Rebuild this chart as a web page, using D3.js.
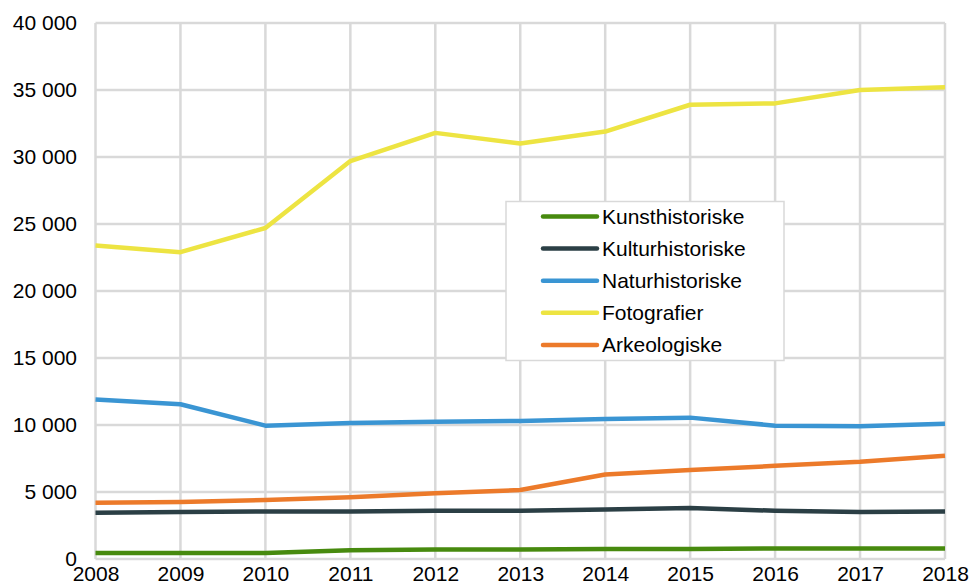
<!DOCTYPE html>
<html>
<head>
<meta charset="utf-8">
<script src="https://cdn.jsdelivr.net/npm/d3@7"></script>
<style>
  body { margin: 0; background: #fff; }
  svg text { font-family: "Liberation Sans", Arial, sans-serif; fill: #000; }
</style>
</head>
<body>
<div class="canvas"></div>
<script>
const years = [2008, 2009, 2010, 2011, 2012, 2013, 2014, 2015, 2016, 2017, 2018];
const yTicks = [0, 5000, 10000, 15000, 20000, 25000, 30000, 35000, 40000];

const kunsthistoriske = [450, 450, 450, 650, 700, 700, 750, 750, 780, 780, 780];
const kulturhistoriske = [3450, 3500, 3550, 3550, 3600, 3600, 3700, 3800, 3600, 3500, 3550];
const naturhistoriske = [11900, 11550, 9950, 10150, 10250, 10300, 10450, 10550, 9950, 9900, 10100];
const fotografier = [23400, 22900, 24700, 29700, 31800, 31000, 31900, 33900, 34000, 35000, 35200];
const arkeologiske = [4200, 4250, 4400, 4600, 4900, 5150, 6300, 6650, 6950, 7250, 7700];

const seriesNames = ["Kunsthistoriske", "Kulturhistoriske", "Naturhistoriske", "Fotografier", "Arkeologiske"];
const seriesValues = [kunsthistoriske, kulturhistoriske, naturhistoriske, fotografier, arkeologiske];
const colors = ["#478a0e", "#2b3f45", "#3a95d3", "#ede442", "#ec7a2a"];

const W = 971, H = 586;
const margin = { top: 23, right: 26, bottom: 27, left: 95.5 };
const width = W - margin.left - margin.right;
const height = H - margin.top - margin.bottom;
const fontSize = 21;

const svg = d3.select(".canvas").append("svg").attr("width", W).attr("height", H);
const chart = svg.append("g").attr("transform", `translate(${margin.left}, ${margin.top})`);

const x = d3.scaleLinear().domain([2008, 2018]).range([0, width]);
const y = d3.scaleLinear().domain([0, 40000]).range([height, 0]);

const fmt = (v) => d3.format(",")(v).replace(/,/g, " ");

// grid
chart.append("g")
  .selectAll("line")
  .data(yTicks)
  .join("line")
  .attr("x1", 0).attr("x2", width)
  .attr("y1", (d) => y(d)).attr("y2", (d) => y(d))
  .attr("stroke", "#d9d9d9").attr("stroke-width", 2.5);
chart.append("g")
  .selectAll("line")
  .data(years)
  .join("line")
  .attr("x1", (d) => x(d)).attr("x2", (d) => x(d))
  .attr("y1", 0).attr("y2", height)
  .attr("stroke", "#d9d9d9").attr("stroke-width", 2.5);

// axes
const yAxis = d3.axisLeft(y).tickValues(yTicks).tickFormat(fmt).tickSize(0).tickPadding(18.5);
const xAxis = d3.axisBottom(x).tickValues(years).tickFormat(d3.format("d")).tickSize(0).tickPadding(7.5);

chart.append("g").call(yAxis)
  .call((g) => g.select(".domain").remove())
  .selectAll("text").attr("font-size", fontSize).attr("font-family", "Liberation Sans, Arial, sans-serif");
chart.append("g").attr("transform", `translate(0, ${height})`).call(xAxis)
  .call((g) => g.select(".domain").remove())
  .selectAll("text").attr("font-size", fontSize).attr("font-family", "Liberation Sans, Arial, sans-serif");

// lines
const line = d3.line().x((d, i) => x(years[i])).y((d) => y(d));
chart.selectAll("path.series")
  .data(seriesValues)
  .join("path")
  .attr("class", "series")
  .attr("d", line)
  .attr("fill", "none")
  .attr("stroke", (d, i) => colors[i])
  .attr("stroke-width", 4.5)
  .attr("stroke-linejoin", "round");

// legend
const legend = svg.append("g").attr("transform", "translate(506, 201.5)");
legend.append("rect")
  .attr("width", 278).attr("height", 159)
  .attr("fill", "#fff").attr("stroke", "#d9d9d9").attr("stroke-width", 1.5);
const items = legend.selectAll("g.item")
  .data(seriesNames)
  .join("g")
  .attr("transform", (d, i) => `translate(0, ${15 + i * 32.1})`);
items.append("line")
  .attr("x1", 37).attr("x2", 91)
  .attr("stroke", (d, i) => colors[i])
  .attr("stroke-width", 4.5).attr("stroke-linecap", "round");
items.append("text")
  .attr("x", 96).attr("dy", "0.35em")
  .attr("font-size", fontSize)
  .text((d) => d);
</script>
</body>
</html>
